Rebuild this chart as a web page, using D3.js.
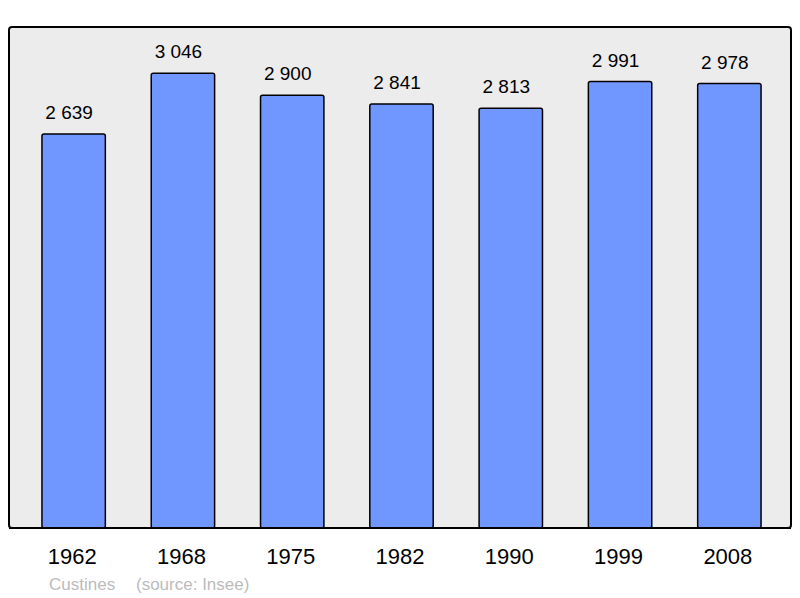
<!DOCTYPE html>
<html>
<head>
<meta charset="utf-8">
<script src="https://cdn.jsdelivr.net/npm/d3@7"></script>
<style>
  html, body { margin: 0; padding: 0; background: #fff; }
  text { font-family: "Liberation Sans", Arial, sans-serif; }
</style>
</head>
<body>
<script>
const years = ['1962', '1968', '1975', '1982', '1990', '1999', '2008']
const population = [2639, 3046, 2900, 2841, 2813, 2991, 2978]
const town = 'Custines'
const source = '(source: Insee)'

const width = 800
const height = 598
const frame = { left: 9, top: 27, right: 791, bottom: 528 }

const fmt = v => d3.format(',')(v).replace(/,/g, ' ')

const svg = d3.select('body')
    .append('svg')
    .attr('width', width)
    .attr('height', height)
    .attr('viewBox', `0 0 ${width} ${height}`)

svg.append('rect')
    .attr('x', frame.left)
    .attr('y', frame.top)
    .attr('width', frame.right - frame.left)
    .attr('height', frame.bottom - frame.top)
    .attr('rx', 3)
    .attr('fill', '#ececec')
    .attr('stroke', '#000')
    .attr('stroke-width', 2)

const x = d3.scaleBand()
    .domain(years)
    .range([19, 784])
    .paddingInner(0.42)
    .paddingOuter(0.21)

const y = d3.scaleLinear()
    .domain([0, 3350])
    .range([frame.bottom, 28])

const data = years.map((yr, i) => ({ year: yr, value: population[i] }))

svg.selectAll('rect.bar')
    .data(data)
    .enter()
    .append('rect')
    .attr('class', 'bar')
    .attr('x', d => x(d.year))
    .attr('y', d => y(d.value))
    .attr('width', x.bandwidth())
    .attr('height', d => frame.bottom - y(d.value))
    .attr('rx', 2)
    .attr('fill', '#7096ff')
    .attr('stroke', '#000')
    .attr('stroke-width', 1.5)

// value labels sit a little left of the bar centre in the original
svg.selectAll('text.value')
    .data(data)
    .enter()
    .append('text')
    .attr('class', 'value')
    .attr('x', d => x(d.year) + x.bandwidth() / 2 - 4.5)
    .attr('y', d => y(d.value) - 15)
    .attr('text-anchor', 'middle')
    .attr('font-size', 19)
    .attr('fill', '#000')
    .text(d => fmt(d.value))

// redraw the frame's bottom edge over the bar bases
svg.append('line')
    .attr('x1', frame.left)
    .attr('x2', frame.right)
    .attr('y1', frame.bottom)
    .attr('y2', frame.bottom)
    .attr('stroke', '#000')
    .attr('stroke-width', 2)

const xAxis = svg.append('g')
    .attr('transform', `translate(0,${frame.bottom})`)
    .call(d3.axisBottom(x).tickSize(0).tickPadding(0))

xAxis.select('.domain').remove()
xAxis.selectAll('text')
    .attr('dy', null)
    .attr('x', -1.5)
    .attr('y', 36)
    .attr('font-size', 22)
    .attr('font-family', '"Liberation Sans", Arial, sans-serif')
    .attr('fill', '#000')

svg.append('text')
    .attr('x', 49)
    .attr('y', 590)
    .attr('font-size', 17)
    .attr('fill', '#bbb')
    .text(town)

svg.append('text')
    .attr('x', 136)
    .attr('y', 590)
    .attr('font-size', 17)
    .attr('fill', '#bbb')
    .text(source)
</script>
</body>
</html>
